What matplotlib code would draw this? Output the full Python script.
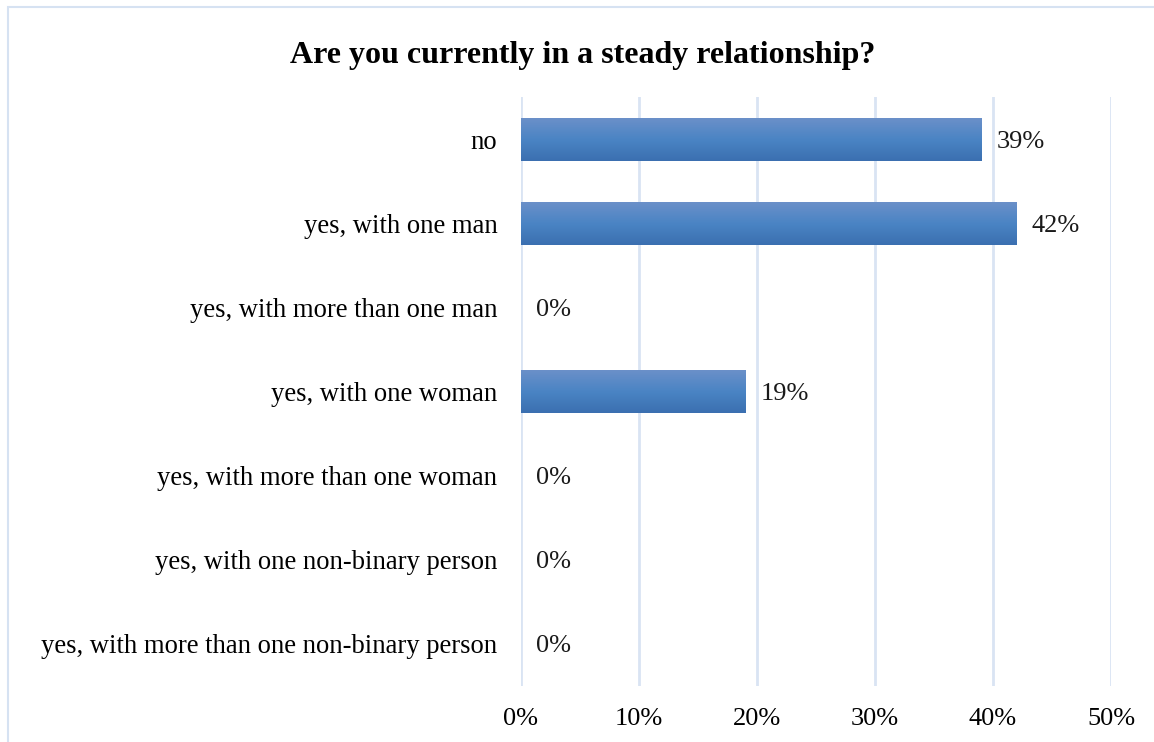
import matplotlib
matplotlib.use("Agg")
import matplotlib.pyplot as plt
import numpy as np
from matplotlib.colors import LinearSegmentedColormap
from matplotlib.patches import Rectangle

categories = [
    "no",
    "yes, with one man",
    "yes, with more than one man",
    "yes, with one woman",
    "yes, with more than one woman",
    "yes, with one non-binary person",
    "yes, with more than one non-binary person",
]
values = [39, 42, 0, 19, 0, 0, 0]
xticks = [0, 10, 20, 30, 40, 50]
title = "Are you currently in a steady relationship?"

plt.rcParams["font.family"] = ["Liberation Serif", "DejaVu Serif"]

fig = plt.figure(figsize=(11.54, 7.42), dpi=100)
W, H = 1154, 742
ax = fig.add_axes([521 / W, 1 - 686 / H, (1111 - 521) / W, (686 - 97) / H])

# chart frame
fig.patches.append(Rectangle((8 / W, -0.01), 1.2, 1 - 7 / H + 0.01,
                             transform=fig.transFigure, fill=False,
                             edgecolor="#d6e2f2", linewidth=1.5))

y = np.arange(len(categories))
bar_h = 0.51
grad = LinearSegmentedColormap.from_list("bar", ["#6b90c9", "#4a84c4", "#3b6fb0"])
bars = ax.barh(y, values, height=bar_h, color="none", zorder=3)
gradient = np.linspace(0, 1, 256).reshape(-1, 1)
for b in bars:
    if b.get_width() <= 0:
        continue
    x0, y0 = b.get_x(), b.get_y()
    im = ax.imshow(gradient, cmap=grad, aspect="auto",
                   extent=[x0, x0 + b.get_width(), y0 + b.get_height(), y0],
                   zorder=3, interpolation="bicubic")
    im.set_clip_path(b)

for yi, v in zip(y, values):
    ax.text(v + 1.3, yi, f"{v}%", va="center_baseline", ha="left",
            fontsize=19, color="#1a1a1a")

ax.set_xlim(0, 50)
ax.set_ylim(len(categories) - 0.5, -0.5)
ax.set_xticks(xticks)
ax.set_xticklabels([f"{t}%" for t in xticks], fontsize=19)
ax.set_yticks(y)
ax.set_yticklabels(categories, fontsize=19.2)
ax.tick_params(length=0)
ax.tick_params(axis="y", pad=17)
ax.tick_params(axis="x", pad=16)
ax.grid(axis="x", color="#d9e4f3", linewidth=2, zorder=0)
for s in ax.spines.values():
    s.set_visible(False)
ax.set_axisbelow(True)

fig.text(583 / W, 1 - 52 / H, title, ha="center", va="center_baseline",
         fontsize=23, fontweight="bold")

fig.savefig("out.png", dpi=100)
